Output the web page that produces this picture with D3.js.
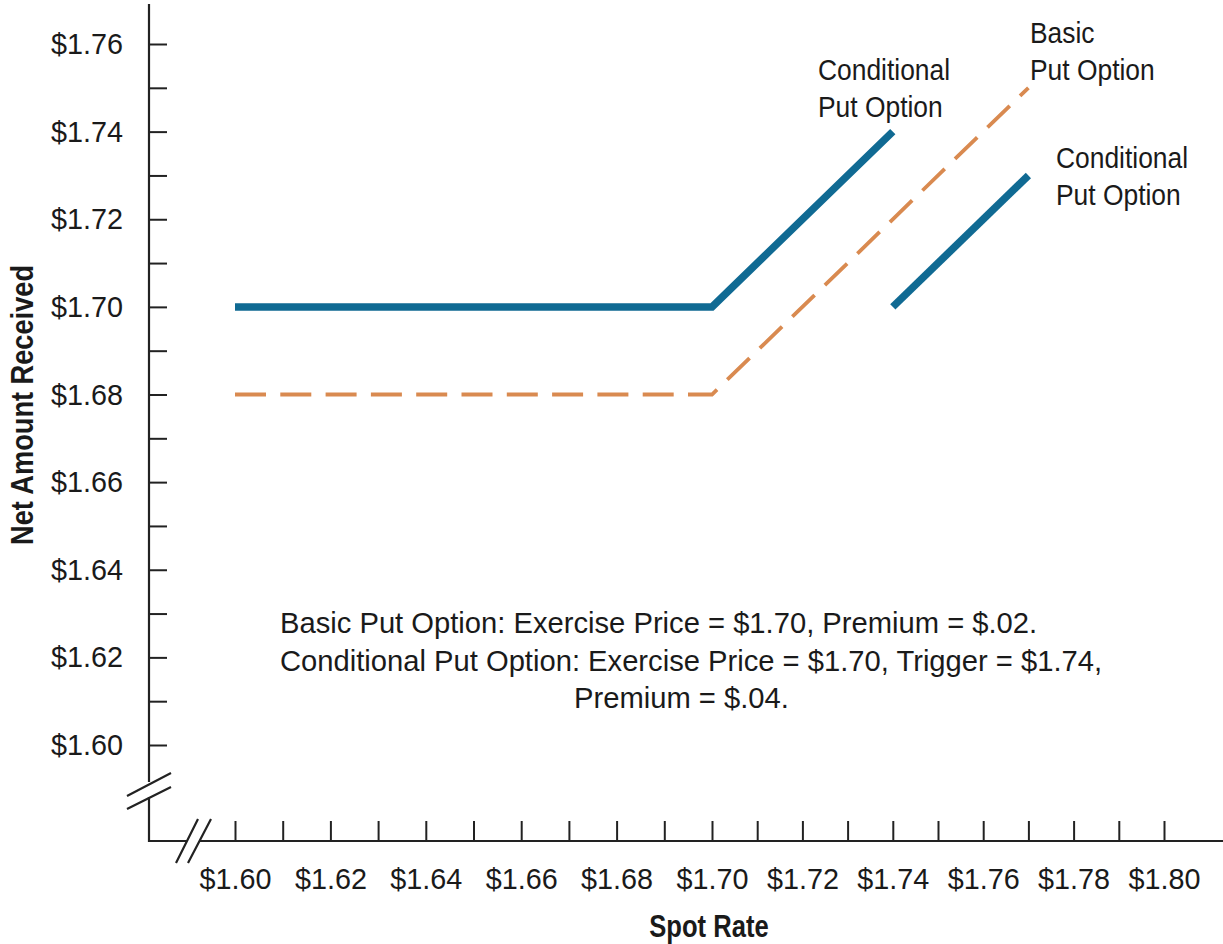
<!DOCTYPE html>
<html>
<head>
<meta charset="utf-8">
<script src="https://cdn.jsdelivr.net/npm/d3@7"></script>
<style>
  body { margin: 0; background: #fff; }
  svg text { font-family: "Liberation Sans", Arial, sans-serif; fill: #1a1a1a; }
</style>
</head>
<body>
<svg width="1223" height="944"></svg>
<script>
// spot rates and net amounts
const condSpot1 = [1.60, 1.70, 1.74];
const condNet1 = [1.70, 1.70, 1.74];
const condSpot2 = [1.74, 1.77];
const condNet2 = [1.70, 1.73];
const basicSpot = [1.60, 1.70, 1.77];
const basicNet = [1.68, 1.68, 1.75];

const xTicks = d3.range(160, 181).map(d => d / 100);
const yTicks = d3.range(160, 177).map(d => d / 100);

const svg = d3.select('svg');
const blue = '#106a93';
const orange = '#d98a50';
const axisColor = '#222';

// the printed x axis is slightly compressed past $1.70
const x = d3.scaleLinear().domain([1.60, 1.70, 1.80]).range([235, 712, 1164]);
const y = d3.scaleLinear().domain([1.60, 1.76]).range([745, 44]);

const originX = 149;
const originY = 841;

const fmt = d => (Math.round(d * 100) % 2 === 0) ? '$' + d.toFixed(2) : '';

// x axis
const xAxis = svg.append('g')
  .attr('transform', `translate(0,${originY})`)
  .call(d3.axisBottom(x).tickValues(xTicks).tickSize(-20).tickPadding(27).tickFormat(fmt));
xAxis.select('.domain').remove();
xAxis.selectAll('.tick line').attr('stroke', axisColor).attr('stroke-width', 2);
xAxis.selectAll('.tick text')
  .attr('font-size', 30).attr('fill', '#1a1a1a')
  .attr('transform', 'scale(0.96,1)');

// y axis
const yAxis = svg.append('g')
  .attr('transform', `translate(${originX},0)`)
  .call(d3.axisLeft(y).tickValues(yTicks).tickSize(-18).tickPadding(26).tickFormat(fmt));
yAxis.select('.domain').remove();
yAxis.selectAll('.tick line').attr('stroke', axisColor).attr('stroke-width', 2);
yAxis.selectAll('.tick text')
  .attr('font-size', 30).attr('fill', '#1a1a1a')
  .attr('transform', 'scale(0.96,1)')
  .attr('x', -26 / 0.96);

// axis lines with breaks
const ax = svg.append('g').attr('stroke', axisColor).attr('stroke-width', 2.2).attr('fill', 'none');
ax.append('path').attr('d', `M${originX},4V782`);
ax.append('path').attr('d', `M${originX},797V${originY}H187`);
ax.append('path').attr('d', `M200,${originY}H1223`);
// break marks
ax.append('path').attr('d', 'M127,796L171,773M127,809L171,787');
ax.append('path').attr('d', 'M176,863L198,819M188,863L211,819');

const line = d3.line().x(d => x(d[0])).y(d => y(d[1]));

svg.append('path')
  .datum(d3.zip(basicSpot, basicNet))
  .attr('d', line)
  .attr('fill', 'none')
  .attr('stroke', orange)
  .attr('stroke-width', 3.8)
  .attr('stroke-dasharray', '31 14.3');

svg.append('path')
  .datum(d3.zip(condSpot1, condNet1))
  .attr('d', line)
  .attr('fill', 'none')
  .attr('stroke', blue)
  .attr('stroke-width', 7.5);

svg.append('path')
  .datum(d3.zip(condSpot2, condNet2))
  .attr('d', line)
  .attr('fill', 'none')
  .attr('stroke', blue)
  .attr('stroke-width', 7.5);

// text helper: condensed look by squeezing horizontally
function squeezed(g, x0, y0, sx, size, str) {
  return g.append('text')
    .attr('transform', `translate(${x0},${y0}) scale(${sx},1)`)
    .attr('font-size', size)
    .text(str);
}

// line labels
const labels = [
  { lines: ['Conditional', 'Put Option'], x: 818, y: 80 },
  { lines: ['Basic', 'Put Option'], x: 1030, y: 43 },
  { lines: ['Conditional', 'Put Option'], x: 1056, y: 168 }
];
labels.forEach(l => {
  l.lines.forEach((s, i) => squeezed(svg, l.x, l.y + i * 37, 0.88, 30, s));
});

// note
squeezed(svg, 280, 633, 0.973, 30, 'Basic Put Option: Exercise Price = $1.70, Premium = $.02.');
squeezed(svg, 280, 671, 0.973, 30, 'Conditional Put Option: Exercise Price = $1.70, Trigger = $1.74,');
squeezed(svg, 574, 708, 0.973, 30, 'Premium = $.04.');

// axis titles
svg.append('text')
  .attr('transform', 'translate(709,937) scale(0.8,1)')
  .attr('text-anchor', 'middle')
  .attr('font-size', 32).attr('font-weight', 'bold')
  .text('Spot Rate');

svg.append('text')
  .attr('transform', 'translate(33,405) rotate(-90) scale(0.85,1)')
  .attr('text-anchor', 'middle')
  .attr('font-size', 32).attr('font-weight', 'bold')
  .text('Net Amount Received');
</script>
</body>
</html>
